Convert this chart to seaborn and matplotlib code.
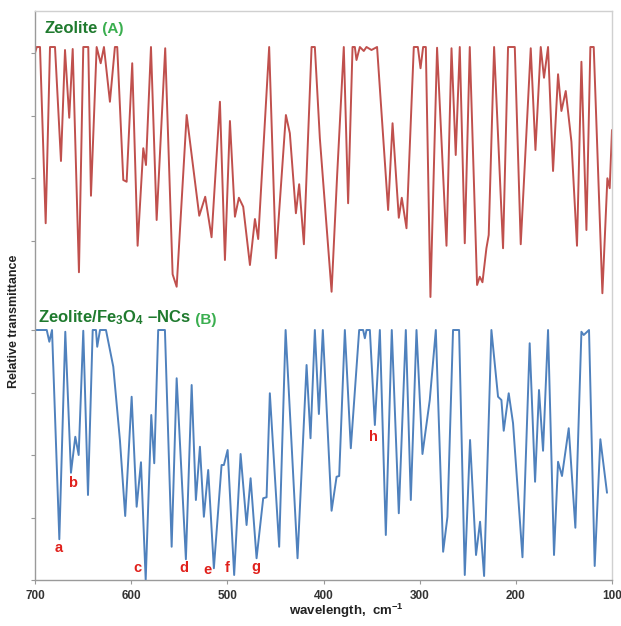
import numpy as np
import pandas as pd
import matplotlib
matplotlib.use("Agg")
import matplotlib.pyplot as plt
import seaborn as sns

sns.set_theme(style="white", context="paper")
plt.rcParams['font.family'] = ['Liberation Sans', 'DejaVu Sans']
plt.rcParams['mathtext.fontset'] = 'custom'
plt.rcParams['mathtext.rm'] = 'Liberation Sans:bold'
plt.rcParams['mathtext.bf'] = 'Liberation Sans:bold'
plt.rcParams['mathtext.default'] = 'bf'

RED = "#c0504d"
BLUE = "#4f81bd"
DARK_GREEN = "#1f7a2e"
LIGHT_GREEN = "#3aae4f"
LABEL_RED = "#e0201b"

# Zeolite (A): wavenumber (cm-1) and relative transmittance (%)
zeo_wn = [700, 698.2, 694.8, 688.9, 684.4, 679.2, 673.0, 668.8, 664.4, 660.8,
          654.3, 649.8, 644.6, 641.8, 635.9, 631.7, 628.3, 622.1, 616.9, 614.5,
          608.2, 604.7, 598.9, 593.3, 587.4, 584.6, 579.4, 573.5, 564.6, 556.9,
          552.7, 542.3, 529.2, 523.0, 516.4, 507.7, 502.5, 497.3, 492.1, 488.0,
          483.5, 476.5, 471.3, 467.9, 456.5, 449.5, 439.1, 435.0, 428.7, 425.3,
          420.4, 412.4, 409.0, 403.8, 391.6, 385.8, 378.9, 374.4, 369.8, 367.4,
          365.7, 362.2, 358.1, 355.3, 350.1, 344.3, 332.8, 328.2, 321.7, 318.6,
          313.7, 306.1, 301.9, 299.1, 296.4, 293.6, 288.8, 281.9, 272.1, 266.9,
          262.5, 258.3, 253.1, 247.9, 240.3, 237.5, 234.7, 230.6, 228.2, 222.6,
          213.3, 208.1, 201.1, 194.9, 184.5, 179.6, 174.1, 170.7, 166.5, 161.3,
          156.1, 152.6, 148.1, 142.2, 136.4, 131.8, 126.6, 122.5, 119.0, 110.0,
          104.8, 102.4, 100.0]
zeo_t = [97.6, 100, 100, 29.5, 100, 100, 54.4, 98.8, 71.7, 99.2,
         9.9, 100, 100, 40.5, 100, 93.5, 100, 78.1, 100, 100,
         46.8, 46.1, 93.5, 20.5, 59.5, 52.8, 100, 30.8, 99.5, 9.1,
         4.1, 72.8, 32.5, 40.1, 23.9, 78.1, 14.8, 70.4, 32.1, 39.7,
         36.1, 12.8, 31.2, 23.2, 100, 15.5, 72.8, 65.5, 33.5, 45.1,
         21.1, 100, 100, 63.5, 2.1, 48.8, 100, 37.5, 100, 100,
         94.8, 100, 98.4, 100, 98.8, 100, 34.8, 69.5, 31.7, 39.7,
         27.5, 100, 100, 91.5, 100, 100, 0.0, 99.7, 20.5, 99.5,
         56.8, 100, 21.5, 100, 4.8, 8.1, 5.9, 19.5, 24.8, 100,
         19.5, 100, 100, 21.1, 99.5, 58.8, 100, 87.7, 100, 50.4,
         89.1, 74.4, 82.4, 62.1, 20.5, 94.1, 26.8, 100, 100, 1.5,
         47.5, 43.5, 66.8]

# Zeolite/Fe3O4-NCs (B)
nc_wn = [700, 687.8, 685.1, 682.3, 674.7, 668.5, 662.6, 658.1, 654.6, 649.8,
         644.9, 640.0, 636.6, 635.3, 632.4, 626.2, 618.6, 611.7, 606.2, 599.5,
         594.3, 589.8, 584.9, 579.1, 576.0, 571.9, 564.9, 557.9, 552.7, 543.1,
         537.1, 532.7, 528.5, 524.4, 519.9, 514.0, 506.0, 503.6, 499.7, 492.9,
         486.2, 480.0, 475.8, 469.6, 462.7, 459.2, 455.8, 446.1, 439.4, 427.0,
         417.6, 413.5, 409.0, 404.8, 400.7, 391.6, 386.4, 383.7, 377.8, 371.6,
         362.9, 358.8, 357.0, 355.3, 351.8, 346.6, 341.4, 335.2, 329.0, 321.7,
         314.4, 309.2, 303.3, 297.1, 289.5, 283.2, 275.6, 271.1, 265.3, 259.0,
         253.1, 247.6, 241.4, 237.2, 233.0, 225.4, 218.5, 215.0, 212.6, 207.4,
         202.9, 193.1, 185.6, 180.0, 175.9, 171.7, 166.5, 160.3, 156.1, 152.0,
         145.0, 138.1, 131.8, 129.4, 123.9, 118.0, 112.1, 105.2]
nc_t = [100, 100, 95.3, 100, 16.3, 99.3, 42.9, 57.3, 50.0, 99.7,
        34.0, 100, 100, 93.3, 100, 100, 85.3, 56.0, 25.6, 73.3,
        29.3, 47.1, 0.0, 66.0, 46.7, 100, 100, 13.3, 80.7, 8.3,
        78.0, 32.0, 53.3, 25.3, 44.0, 4.7, 46.0, 46.0, 52.0, 2.0,
        50.4, 22.0, 40.7, 8.7, 32.7, 33.1, 74.7, 13.3, 100, 8.7,
        86.0, 56.7, 100, 66.4, 100, 27.7, 41.3, 41.6, 100, 52.7,
        100, 100, 96.7, 100, 100, 62.0, 100, 18.0, 100, 26.7,
        100, 32.0, 100, 50.4, 72.0, 100, 11.3, 25.3, 100, 100,
        2.0, 56.0, 10.0, 23.3, 1.6, 100, 73.3, 72.0, 59.7, 74.7,
        62.7, 9.1, 94.7, 39.3, 76.0, 51.7, 100, 10.0, 47.3, 41.6,
        60.7, 20.9, 99.3, 98.0, 100, 5.6, 56.3, 34.9]

# band labels on spectrum B
band_letters = ["a", "b", "c", "d", "e", "f", "g", "h"]
band_wn = [675.0, 660.5, 593.9, 545.1, 521.1, 500.4, 470.2, 348.5]
band_t = [12.8, 38.8, 4.8, 4.8, 4.0, 4.8, 5.2, 57.2]

OFFSET_A = 113.2  # vertical shift of spectrum A above B

fig = plt.figure(figsize=(6.21, 6.26), dpi=100)
ax = fig.add_axes([35 / 621, 46 / 626, 577 / 621, 569 / 626])

df_a = pd.DataFrame({"wn": zeo_wn, "t": np.array(zeo_t) + OFFSET_A})
df_b = pd.DataFrame({"wn": nc_wn, "t": nc_t})
sns.lineplot(data=df_a, x="wn", y="t", ax=ax, color=RED, linewidth=1.4,
             estimator=None, solid_joinstyle="round")
sns.lineplot(data=df_b, x="wn", y="t", ax=ax, color=BLUE, linewidth=1.4,
             estimator=None, solid_joinstyle="round")

ax.set_xlim(700, 100)
ax.set_ylim(0, 227.6)
ax.set_xticks([700, 600, 500, 400, 300, 200, 100])
ax.set_xticklabels(["700", "600", "500", "400", "300", "200", "100"],
                   fontweight="bold", fontsize=8.5, color="#333333")
ax.set_yticks([0, 25, 50, 75, 100, 135.6, 160.8, 185.6, 210.8])
ax.set_yticklabels([])
ax.tick_params(axis="both", direction="out", length=3, width=0.8, color="#999999",
               left=True, bottom=True, pad=4)

for side in ["left", "bottom"]:
    ax.spines[side].set_color("#9a9a9a")
    ax.spines[side].set_linewidth(1.0)
for side in ["top", "right"]:
    ax.spines[side].set_color("#d0d0d0")
    ax.spines[side].set_linewidth(1.0)

ax.set_xlabel(r"wavelength,  cm$^{-1}$", fontsize=9.5, fontweight="bold", color="#222222")
ax.xaxis.set_label_coords(0.54, -0.038)
ax.set_ylabel("Relative transmittance", fontsize=9, fontweight="bold", color="#222222")
ax.yaxis.set_label_coords(-0.026, 0.455)

# spectrum titles
t1 = ax.text(0.017, 0.962, "Zeolite", transform=ax.transAxes, fontsize=12,
             fontweight="bold", color=DARK_GREEN, ha="left", va="baseline")
ax.annotate(" (A)", xy=(1, 0), xycoords=t1, fontsize=11, fontweight="bold",
            color=LIGHT_GREEN, ha="left", va="bottom")
t2 = ax.text(0.005, 0.453, r"Zeolite/Fe$_3$O$_4$ –NCs", transform=ax.transAxes,
             fontsize=12, fontweight="bold", color=DARK_GREEN, ha="left", va="baseline")
ax.annotate(" (B)", xy=(1, 0), xycoords=t2, fontsize=11, fontweight="bold",
            color=LIGHT_GREEN, ha="left", va="bottom")

for letter, wn, t in zip(band_letters, band_wn, band_t):
    ax.text(wn, t, letter, color=LABEL_RED, fontsize=10.5, fontweight="bold",
            ha="center", va="center")

fig.savefig("out.png", dpi=100)
